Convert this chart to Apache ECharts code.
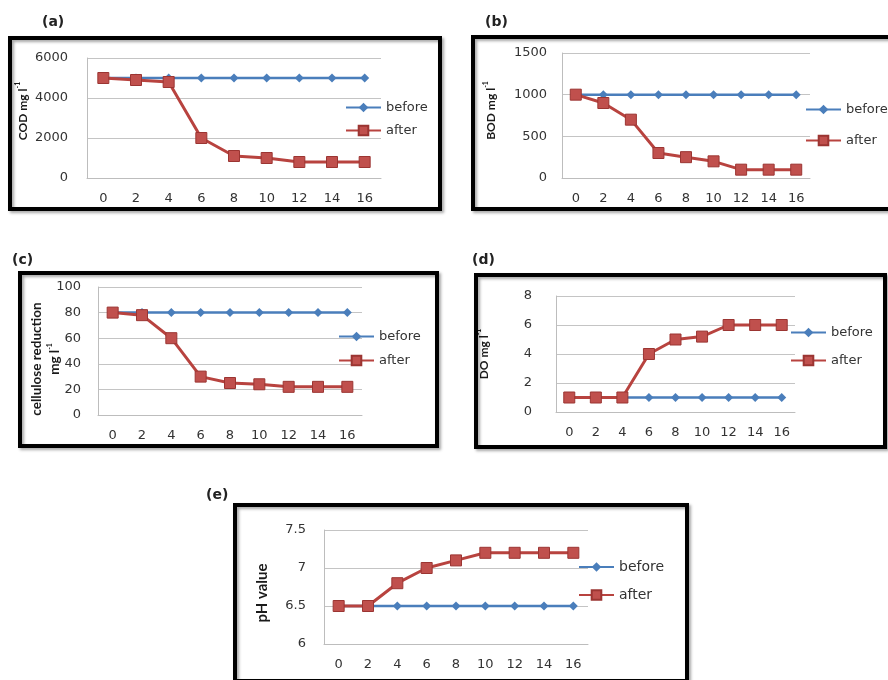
<!DOCTYPE html>
<html>
<head>
<meta charset="utf-8">
<script src="https://cdn.jsdelivr.net/npm/echarts@6/dist/echarts.min.js"></script>
<style>
html, body { margin: 0; padding: 0; background: #fff; }
#main { width: 888px; height: 680px; }
</style>
</head>
<body>
<div id="main"></div>
<script>
// sampling time (x axis)
var hours = ['0', '2', '4', '6', '8', '10', '12', '14', '16'];

// (a) COD
var codBefore = [5000, 5000, 5000, 5000, 5000, 5000, 5000, 5000, 5000];
var codAfter = [5000, 4900, 4800, 2000, 1100, 1000, 800, 800, 800];
// (b) BOD
var bodBefore = [1000, 1000, 1000, 1000, 1000, 1000, 1000, 1000, 1000];
var bodAfter = [1000, 900, 700, 300, 250, 200, 100, 100, 100];
// (c) cellulose
var celBefore = [80, 80, 80, 80, 80, 80, 80, 80, 80];
var celAfter = [80, 78, 60, 30, 25, 24, 22, 22, 22];
// (d) DO
var doBefore = [1, 1, 1, 1, 1, 1, 1, 1, 1];
var doAfter = [1, 1, 1, 4, 5, 5.2, 6, 6, 6];
// (e) pH
var phBefore = [6.5, 6.5, 6.5, 6.5, 6.5, 6.5, 6.5, 6.5, 6.5];
var phAfter = [6.5, 6.5, 6.8, 7, 7.1, 7.2, 7.2, 7.2, 7.2];

var tickFont = 'DejaVu Sans';
var nameFont = 'Lato';

// legend: [left, top, gap]; namePad shifts the rotated axis name (+ = up)
var panels = [
  { label: '(a)', lx: 42, ly: 15, box: [10, 38, 430, 171], grid: [87, 58, 294, 120],
    y: [0, 6000, 2000], yMargin: 19, name: '{n|COD mg l}{s|-1}', nameGap: 55, nameSize: 12, namePad: 7,
    legend: [345, 101, 10], legendSize: 13, before: codBefore, after: codAfter },
  { label: '(b)', lx: 485, ly: 15, box: [473, 37, 419, 172], grid: [562, 53, 248, 125],
    y: [0, 1500, 500], yMargin: 15, name: '{n|BOD mg l}{s|-1}', nameGap: 62, nameSize: 12, namePad: 5,
    legend: [805, 103, 18], legendSize: 13, before: bodBefore, after: bodAfter },
  { label: '(c)', lx: 12, ly: 253, box: [20, 273, 417, 173], grid: [98, 287, 264, 128],
    y: [0, 100, 20], yMargin: 17, name: '{n|cellulose reduction}\n{n|mg l}{s|-1}', nameGap: 34, nameSize: 13.5, namePad: -8,
    legend: [338, 330, 11], legendSize: 13, before: celBefore, after: celAfter },
  { label: '(d)', lx: 472, ly: 253, box: [476, 275, 409, 172], grid: [556, 296, 239, 116],
    y: [0, 8, 2], yMargin: 24, name: '{n|DO mg l}{s|-1}', nameGap: 63, nameSize: 12, namePad: 0,
    legend: [790, 326, 15], legendSize: 13, before: doBefore, after: doAfter },
  { label: '(e)', lx: 206, ly: 488, box: [235, 505, 452, 176], grid: [324, 530, 264, 114],
    y: [6, 7.5, 0.5], yMargin: 18, name: '{n|pH value}', nameGap: 53, nameSize: 15, namePad: -6,
    legend: [578, 560, 14], legendSize: 14, before: phBefore, after: phAfter }
];

var option = {
  animation: false,
  backgroundColor: '#fff',
  title: [], grid: [], xAxis: [], yAxis: [], legend: [], series: [], graphic: []
};

panels.forEach(function (p, i) {
  var pad = p.namePad >= 0 ? [0, 0, 0, 2 * p.namePad] : [0, -2 * p.namePad, 0, 0];
  option.title.push({
    text: p.label, left: p.lx, top: p.ly, padding: 0,
    textStyle: { fontFamily: tickFont, fontSize: 14, fontWeight: 'bold', color: '#222' }
  });
  option.graphic.push({
    type: 'rect', z: 100,
    shape: { x: p.box[0], y: p.box[1], width: p.box[2], height: p.box[3] },
    style: { fill: 'transparent', stroke: '#000', lineWidth: 4,
      shadowBlur: 3, shadowColor: 'rgba(0,0,0,0.35)', shadowOffsetX: 2, shadowOffsetY: 2 }
  });
  option.grid.push({ left: p.grid[0], top: p.grid[1], width: p.grid[2], height: p.grid[3] });
  option.xAxis.push({
    type: 'category', gridIndex: i, data: hours, boundaryGap: true,
    axisLine: { lineStyle: { color: '#bdbdbd' } },
    axisTick: { show: false },
    axisLabel: { fontFamily: tickFont, fontSize: 13, color: '#333', margin: 14 }
  });
  option.yAxis.push({
    type: 'value', gridIndex: i, min: p.y[0], max: p.y[1], interval: p.y[2],
    name: p.name, nameLocation: 'middle', nameGap: p.nameGap, nameMoveOverlap: false,
    nameTextStyle: {
      padding: pad,
      rich: {
        n: { fontFamily: nameFont, fontSize: p.nameSize, fontWeight: 'bold', color: '#1a1a1a', lineHeight: 18 },
        s: { fontFamily: nameFont, fontSize: 7, fontWeight: 'bold', color: '#1a1a1a', lineHeight: 18, verticalAlign: 'top' }
      }
    },
    axisLine: { show: true, lineStyle: { color: '#bdbdbd' } },
    axisTick: { show: false },
    splitLine: { lineStyle: { color: '#c4c4c4' } },
    axisLabel: {
      fontFamily: tickFont, fontSize: 13, color: '#333', margin: p.yMargin,
      formatter: function (v) { return String(v); }
    }
  });
  option.legend.push({
    orient: 'vertical', left: p.legend[0], top: p.legend[1], itemGap: p.legend[2],
    itemWidth: 35, itemHeight: 12, padding: 0,
    data: ['before', 'after'],
    textStyle: { fontFamily: tickFont, fontSize: p.legendSize, color: '#333' }
  });
  option.series.push({
    name: 'before', type: 'line', xAxisIndex: i, yAxisIndex: i, data: p.before,
    symbol: 'diamond', symbolSize: 9,
    lineStyle: { color: '#4a7ebb', width: 2.5 },
    itemStyle: { color: '#4a7ebb' }
  });
  option.series.push({
    name: 'after', type: 'line', xAxisIndex: i, yAxisIndex: i, data: p.after,
    symbol: 'rect', symbolSize: 11,
    lineStyle: { color: '#b8433f', width: 3 },
    itemStyle: { color: '#c0504d', borderColor: '#9b3532', borderWidth: 1 }
  });
});

var chartDom = document.getElementById('main');
var myChart = echarts.init(chartDom);
option && myChart.setOption(option);
</script>
</body>
</html>
